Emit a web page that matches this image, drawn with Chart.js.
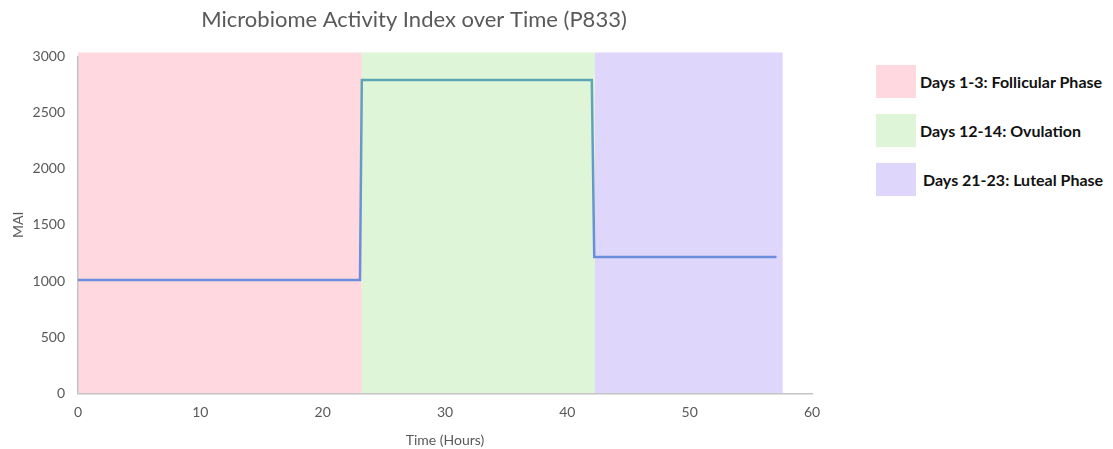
<!DOCTYPE html>
<html>
<head>
<meta charset="utf-8">
<script src="https://cdn.jsdelivr.net/npm/chart.js@4"></script>
<style>
  body { margin: 0; background: #fff; }
  #wrap { position: relative; width: 1113px; height: 449px; }
  #chart { position: absolute; left: 0; top: 0; }
  #legend { position: absolute; left: 876px; top: 65px; font-family: Lato, sans-serif; }
  .item { display: flex; align-items: center; height: 33px; margin-bottom: 16px; }
  .box { width: 40px; height: 33px; margin-right: 4px; }
  .lbl { font-weight: bold; font-size: 16px; color: #111; }
</style>
</head>
<body>
<div id="wrap">
  <canvas id="chart" width="828" height="449"></canvas>
  <div id="legend"></div>
</div>
<script>
// line data
var timeHours = [0, 23.05, 23.2, 42.0, 42.2, 57.1];
var maiValues = [1010, 1010, 2790, 2790, 1215, 1215];

// phase bands
var phaseNames = ["Days 1-3: Follicular Phase", "Days 12-14: Ovulation", "Days 21-23: Luteal Phase"];
var phaseStart = [0, 23.2, 42.25];
var phaseEnd = [23.2, 42.25, 57.6];
var phaseTop = [3035, 3035, 3035];
var phaseColors = ["#ffd9df", "#dff5d8", "#dfd6fc"];

var xTicks = [0, 10, 20, 30, 40, 50, 60];
var yTicks = [0, 500, 1000, 1500, 2000, 2500, 3000];

var points = [];
for (var i = 0; i < timeHours.length; i++) {
    points.push({x: timeHours[i], y: maiValues[i]});
}

// legend built from the phase arrays
var legend = document.getElementById("legend");
for (var i = 0; i < phaseNames.length; i++) {
    var item = document.createElement("div");
    item.className = "item";
    var box = document.createElement("div");
    box.className = "box";
    box.style.background = phaseColors[i];
    var lbl = document.createElement("span");
    lbl.className = "lbl";
    lbl.textContent = phaseNames[i];
    if (i == 2) lbl.style.marginLeft = "3px";
    item.appendChild(box);
    item.appendChild(lbl);
    legend.appendChild(item);
}

// draws the shaded phases behind the axes
var phasePlugin = {
    id: "phases",
    beforeDraw: function(chart) {
        var c = chart.ctx;
        var xs = chart.scales.x, ys = chart.scales.y;
        c.save();
        for (var i = 0; i < phaseStart.length; i++) {
            var x1 = xs.getPixelForValue(phaseStart[i]);
            var x2 = xs.getPixelForValue(phaseEnd[i]);
            var y1 = ys.getPixelForValue(phaseTop[i]);
            var y2 = ys.getPixelForValue(0);
            c.fillStyle = phaseColors[i];
            c.fillRect(x1, y1, x2 - x1, y2 - y1);
        }
        c.restore();
    }
};

var grey = "#595959";
var ctx = document.getElementById("chart").getContext("2d");
var myChart = new Chart(ctx, {
    type: "line",
    data: {
        datasets: [{
            label: "MAI",
            data: points,
            borderWidth: 2.5,
            pointRadius: 0,
            tension: 0,
            borderColor: function(context) {
                var chart = context.chart;
                if (!chart.chartArea) return "#6a8edb";
                var ys = chart.scales.y;
                var g = chart.ctx.createLinearGradient(0, ys.getPixelForValue(1215), 0, ys.getPixelForValue(2790));
                g.addColorStop(0, "#6a8edb");
                g.addColorStop(1, "#5ea6b6");
                return g;
            }
        }]
    },
    options: {
        responsive: false,
        animation: false,
        layout: { padding: { left: 0, right: 0, top: 0, bottom: 0 } },
        plugins: {
            legend: { display: false },
            tooltip: { enabled: false },
            title: {
                display: true,
                text: "Microbiome Activity Index over Time (P833)",
                color: grey,
                font: { family: "Lato", size: 22, weight: "normal" },
                padding: { top: 7, bottom: 23 }
            }
        },
        scales: {
            x: {
                type: "linear",
                min: 0, max: 60,
                afterBuildTicks: function(s) { s.ticks = xTicks.map(function(v) { return {value: v}; }); },
                afterFit: function(s) { s.paddingRight = 16; },
                grid: { display: false, drawTicks: false },
                border: { display: true, color: "#c4c4c4", width: 1.5 },
                ticks: { color: grey, padding: 11, font: { family: "Lato", size: 14 }, callback: function(v) { return String(v); } },
                title: { display: true, text: "Time (Hours)", color: grey, font: { family: "Lato", size: 14 }, padding: { top: 0, bottom: 0 } }
            },
            y: {
                min: 0, max: 3000,
                afterBuildTicks: function(s) { s.ticks = yTicks.map(function(v) { return {value: v}; }); },
                afterFit: function(s) { s.width = 78; },
                grid: { display: false, drawTicks: false },
                border: { display: true, color: "#c4c4c4", width: 1.5 },
                ticks: { color: grey, padding: 13, font: { family: "Lato", size: 14 }, callback: function(v) { return String(v); } },
                title: { display: true, text: "MAI", color: grey, font: { family: "Lato", size: 14 }, padding: { top: 10, bottom: 0 } }
            }
        }
    },
    plugins: [phasePlugin]
});
</script>
</body>
</html>
